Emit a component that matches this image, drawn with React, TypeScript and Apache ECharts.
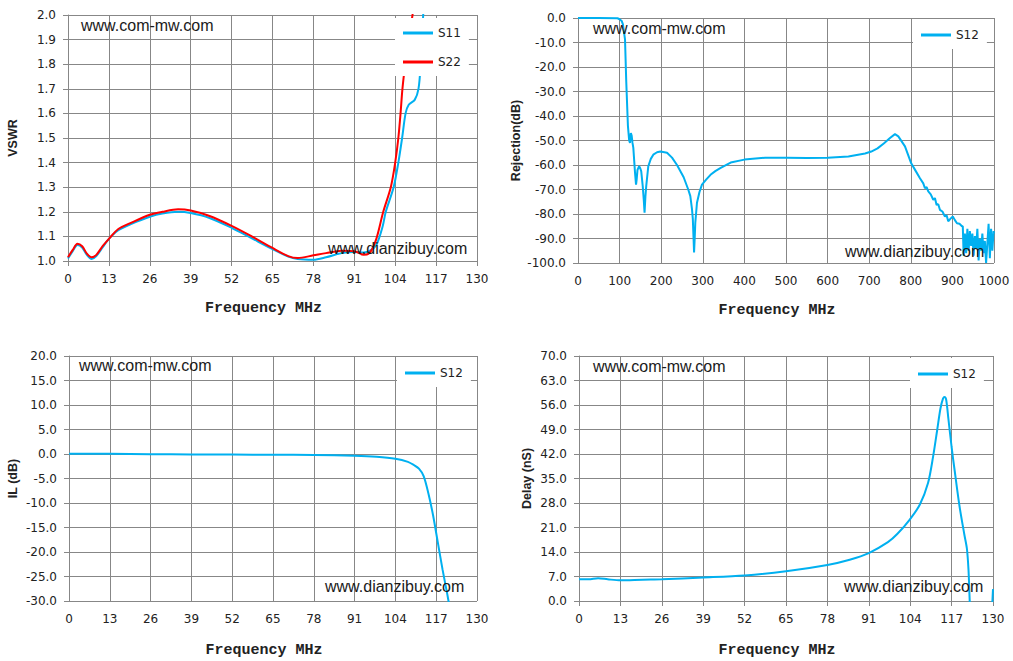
import { useEffect, useRef } from "react";
import * as echarts from "echarts";

// VSWR (top left)
const s11Freq = [0, 1.5, 3, 4.5, 6, 7.5, 9, 11, 13, 16, 20, 26, 30, 35, 39, 45, 52, 58, 65, 70, 73, 78, 82, 87, 91, 94, 96, 98, 100, 101, 103.5, 105, 106.2, 107.3, 108.3, 110.2, 111.4, 112.1, 112.9, 113.5];
const s11Vswr = [1.01, 1.04, 1.065, 1.055, 1.025, 1.008, 1.02, 1.055, 1.09, 1.125, 1.15, 1.18, 1.193, 1.2, 1.195, 1.175, 1.135, 1.095, 1.048, 1.018, 1.008, 1.005, 1.015, 1.032, 1.037, 1.035, 1.042, 1.065, 1.14, 1.2, 1.3, 1.4, 1.5, 1.6, 1.635, 1.655, 1.7, 1.8, 2.0, 2.1];
const s22Freq = [0, 1.5, 3, 4.5, 6, 7.5, 9, 11, 13, 16, 20, 26, 30, 35, 39, 45, 52, 58, 65, 70, 73, 78, 82, 87, 91, 94, 96, 98, 100.2, 102.6, 104, 105, 105.7, 106.3, 107.2, 108.3, 109.5, 110.5];
const s22Vswr = [1.015, 1.045, 1.07, 1.06, 1.03, 1.015, 1.025, 1.06, 1.09, 1.13, 1.155, 1.188, 1.2, 1.21, 1.205, 1.183, 1.143, 1.103, 1.053, 1.02, 1.012, 1.023, 1.032, 1.042, 1.04, 1.025, 1.035, 1.09, 1.2, 1.3, 1.4, 1.5, 1.6, 1.7, 1.8, 1.9, 2.0, 2.1];

// Rejection (top right)
const rejFreq = [0, 50, 95, 100, 105, 108, 113, 116, 120, 123, 125, 127, 129, 131, 133, 135, 137, 139.5, 141, 143, 147, 150, 152, 155.6, 158, 160, 162, 164, 169, 175, 181, 190, 198, 214, 226, 238, 254, 265, 270, 274, 276, 278, 279, 280.5, 282, 286, 292, 298, 308, 318.5, 330, 343, 367, 400, 450, 500, 550, 600, 650, 690, 705, 720, 735, 750, 762, 770, 786, 801, 812, 822, 830, 834, 838, 842, 848, 854, 858, 862, 866, 870, 876, 882, 886, 890, 895, 901, 906, 911, 917, 923, 925, 927, 930, 933, 936, 939, 942, 945, 948, 951, 954, 957, 960, 963, 966, 969, 972, 975, 978, 981, 984, 987, 990, 993, 996, 999, 1000];
const rejDb = [0, 0, -0.1, -0.5, -1.2, -2.6, -8.7, -26, -44, -50, -51, -47, -48, -51, -53, -58, -63, -68, -66, -62, -60.5, -61.5, -62.6, -68.6, -74, -79.5, -73, -68.6, -60.5, -57.5, -55.8, -54.8, -54.5, -55, -57, -60, -65, -70, -72.7, -78, -82, -91, -95.7, -90, -83.5, -75.4, -71, -68, -66, -64, -62.5, -61.2, -59, -57.8, -57, -57, -57.1, -57, -56.5, -55.3, -54.5, -53.2, -51.2, -49, -47.4, -48.3, -52.4, -59.3, -62.5, -65.4, -67.5, -69.5, -69, -70.8, -72, -74.2, -73.5, -76.3, -76, -78.3, -79, -81, -80.5, -83, -82, -81, -82.5, -83.8, -84, -85, -85, -97, -88, -96, -86, -95, -87, -93, -88, -97, -89, -94, -86, -99, -90, -95, -88, -96, -91, -100, -92, -84, -98, -86, -95, -87, -88];

// Insertion loss (bottom left)
const ilFreq = [0, 13, 26, 39, 52, 65, 78, 91, 98, 104, 108, 110, 111.5, 113, 114.5, 116, 117.5, 119, 120.5, 121.2];
const ilDb = [0.05, 0.03, -0.03, -0.08, -0.12, -0.15, -0.2, -0.35, -0.55, -0.95, -1.6, -2.3, -3, -4.5, -8, -12.5, -18, -23.5, -28.5, -31];

// Group delay (bottom right)
const delayFreq = [0, 3, 6, 9, 13, 20, 26, 39, 52, 65, 78, 85, 91, 97, 100, 103.8, 107, 109.6, 111.2, 112.5, 113.5, 114.3, 114.8, 115.3, 116, 117, 118, 119.5, 121, 121.8, 122.3, 122.6, 122.9, 126, 129.6, 130];
const delayNs = [6.2, 6.2, 6.5, 6.2, 5.9, 6.1, 6.2, 6.7, 7.3, 8.5, 10.3, 11.8, 13.7, 16.8, 19.2, 23.2, 27.5, 33.7, 41.3, 49, 55, 57.8, 58.3, 57.5, 52, 44, 37, 27, 19, 15, 9, 2, -5, null, -4, 3.4];

const BLUE = "#00B0F0";
const RED = "#FF0000";
const GRID = "#878787";
const TICK_FONT = "DejaVu Sans";

const pairs = (xs: number[], ys: (number | null)[]) =>
  xs.map((x, i) => [x, ys[i] === null ? "-" : ys[i]]);

function xAxisFor(gridIndex: number, max: number, interval: number) {
  return {
    type: "value",
    gridIndex,
    min: 0,
    max,
    interval,
    name: "Frequency MHz",
    nameLocation: "middle",
    nameGap: 40,
    nameTextStyle: {
      fontFamily: "Liberation Mono",
      fontWeight: "bold",
      fontSize: 15,
      color: "#222",
      padding: [0, 18, 0, 0],
    },
    axisLine: { lineStyle: { color: GRID, width: 1 } },
    axisTick: { show: true, length: 5, lineStyle: { color: GRID } },
    axisLabel: {
      color: "#222",
      fontFamily: TICK_FONT,
      fontSize: 12,
      margin: 12,
      formatter: (v: number) => String(v),
    },
    splitLine: { show: true, lineStyle: { color: GRID, width: 1 } },
  };
}

function yAxisFor(gridIndex: number, name: string, min: number, max: number, interval: number, nameGap: number) {
  return {
    type: "value",
    gridIndex,
    min,
    max,
    interval,
    name,
    nameLocation: "middle",
    nameGap,
    nameRotate: 90,
    nameTextStyle: { fontFamily: "Liberation Sans", fontWeight: "bold", fontSize: 12.5, color: "#222" },
    axisLine: { show: true, lineStyle: { color: GRID, width: 1 } },
    axisTick: { show: true, length: 5, lineStyle: { color: GRID } },
    axisLabel: {
      color: "#222",
      fontFamily: TICK_FONT,
      fontSize: 12,
      margin: 12,
      formatter: (v: number) => v.toFixed(1),
    },
    splitLine: { show: true, lineStyle: { color: GRID, width: 1 } },
  };
}

function legendFor(left: number, top: number, names: string[], padTop = 10) {
  return {
    left,
    top,
    z: 5,
    orient: "vertical",
    data: names,
    icon: "rect",
    itemWidth: 30,
    itemHeight: 3,
    itemGap: 17,
    padding: [padTop, 8, 8, 8],
    backgroundColor: "#ffffff",
    selectedMode: false,
    textStyle: { fontFamily: TICK_FONT, fontSize: 12, color: "#222" },
  };
}

function mark(left: number, cy: number, text: string) {
  return {
    type: "text",
    left,
    top: cy - 10,
    z: 100,
    style: { text, fontFamily: "Liberation Sans", fontSize: 16, fill: "#1a1a1a" },
  };
}

function line(name: string, xi: number, data: unknown[], color: string, smooth: number | boolean) {
  return {
    type: "line",
    name,
    xAxisIndex: xi,
    yAxisIndex: xi,
    data,
    smooth,
    z: 3,
    showSymbol: false,
    connectNulls: false,
    clip: true,
    color,
    lineStyle: { color, width: 2 },
  };
}

export default function App() {
  const ref = useRef<HTMLDivElement | null>(null);

  useEffect(() => {
    if (!ref.current) return;
    const chart = echarts.init(ref.current, undefined, { renderer: "svg" });
    chart.setOption({
      animation: false,
      backgroundColor: "#ffffff",
      grid: [
        { left: 68, top: 15, width: 409, height: 246 },
        { left: 578, top: 18, width: 416, height: 245 },
        { left: 69, top: 356, width: 408, height: 245 },
        { left: 579, top: 356, width: 414, height: 245 },
      ],
      xAxis: [
        xAxisFor(0, 130, 13),
        xAxisFor(1, 1000, 100),
        { ...xAxisFor(2, 130, 13), nameGap: 42 },
        { ...xAxisFor(3, 130, 13), nameGap: 42 },
      ],
      yAxis: [
        yAxisFor(0, "VSWR", 1, 2, 0.1, 49),
        yAxisFor(1, "Rejection(dB)", -100, 0, 10, 56),
        yAxisFor(2, "IL (dB)", -30, 20, 5, 50),
        yAxisFor(3, "Delay (nS)", 0, 70, 7, 46),
      ],
      legend: [
        legendFor(395, 18, ["S11", "S22"], 9),
        legendFor(913, 19, ["S12"]),
        legendFor(397, 357, ["S12"]),
        legendFor(910, 358, ["S12"]),
      ],
      graphic: [
        mark(81, 27, "www.com-mw.com"),
        mark(328, 250, "www.dianzibuy.com"),
        mark(593, 30, "www.com-mw.com"),
        mark(845, 253, "www.dianzibuy.com"),
        mark(79, 367, "www.com-mw.com"),
        mark(325, 588, "www.dianzibuy.com"),
        mark(593, 368, "www.com-mw.com"),
        mark(844, 588, "www.dianzibuy.com"),
      ],
      series: [
        line("S11", 0, pairs(s11Freq, s11Vswr), BLUE, 0.3),
        line("S22", 0, pairs(s22Freq, s22Vswr), RED, 0.3),
        line("S12", 1, pairs(rejFreq, rejDb), BLUE, false),
        line("S12", 2, pairs(ilFreq, ilDb), BLUE, 0.3),
        line("S12", 3, pairs(delayFreq, delayNs), BLUE, 0.3),
      ],
    });
    return () => chart.dispose();
  }, []);

  return (
    <div
      ref={ref}
      style={{ position: "fixed", left: 0, top: 0, width: 1013, height: 661, background: "#fff" }}
    />
  );
}
